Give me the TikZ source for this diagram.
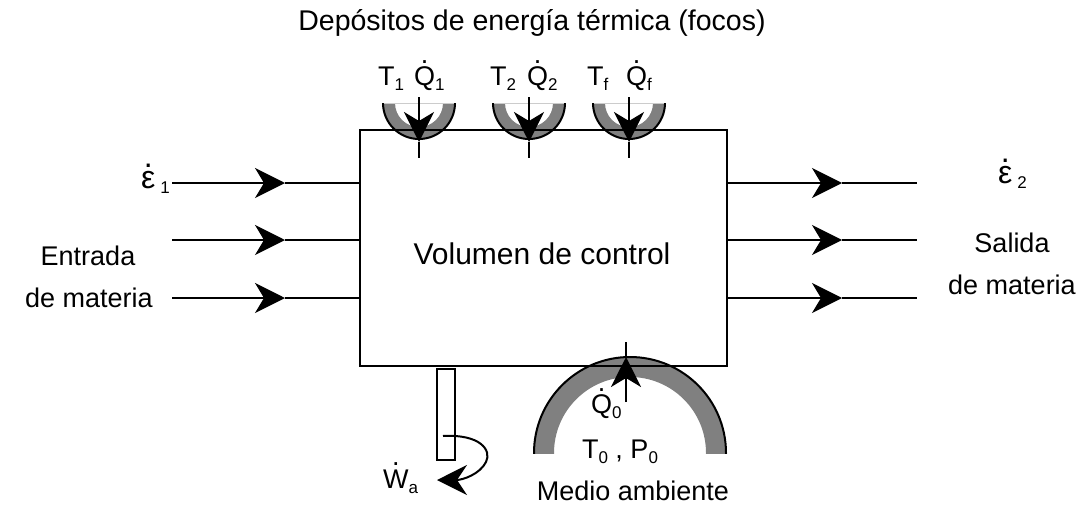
\documentclass[tikz,border=0pt]{standalone}
\usepackage{fontspec}
\setmainfont{Liberation Sans}
\usetikzlibrary{arrows.meta}
\newcommand{\lowidx}[1]{\raisebox{-5pt}{\fontsize{17}{17}\selectfont #1}}
\newcommand{\dotover}[2]{{\ooalign{#2\cr\hidewidth\raisebox{#1}{.}\hidewidth\cr}}}
\begin{document}
\begin{tikzpicture}[x=1pt,y=-1pt,
  ln/.style={line width=2pt},
  tipped/.style={line width=2pt,-{Stealth[length=30pt,width=30pt,inset=9pt]}},
  txt/.style={font=\fontsize{28.5}{33}\selectfont, inner sep=0pt, anchor=base},
  side/.style={font=\fontsize{27}{31}\selectfont, inner sep=0pt, anchor=base},
  lbl/.style={font=\fontsize{27}{31}\selectfont, inner sep=0pt, anchor=base west},
  band/.style={fill=black!50},
]
\useasboundingbox (0,0) rectangle (1078,506);

% thermal reservoirs (top)
\foreach \n/\cx in {1/419, 2/529, 3/629}{
  \coordinate (cup\n) at (\cx,103);
  \begin{scope}
    \clip (\cx-40,103) rectangle (\cx+40,145);
    \fill[band,even odd rule] (cup\n) circle[radius=36] (cup\n) circle[radius=24];
    \draw[ln] (cup\n) circle[radius=36];
  \end{scope}
  \draw[black!20, line width=0.8pt] (\cx-35,103) -- (\cx+35,103);
}

% environment reservoir (bottom)
\coordinate (env) at (630,453);
\begin{scope}
  \clip (520,350) rectangle (740,453);
  \fill[band,even odd rule] (env) circle[radius=96] (env) circle[radius=76];
  \draw[ln] (env) circle[radius=96];
\end{scope}

% control volume
\node[draw, line width=2pt, minimum width=367pt, minimum height=236pt,
      anchor=north west, inner sep=0pt, outer sep=0pt] (cv) at (360,130) {};
\node[txt, font=\fontsize{30}{34}\selectfont] (vct) at (542,264) {Volumen de control};

% matter inlets and outlets
\foreach \n/\y in {1/183, 2/240, 3/298}{
  \coordinate (ia\n) at (172,\y);
  \coordinate (it\n) at (285,\y);
  \draw[tipped] (ia\n) -- (it\n);
  \draw[ln] (it\n) -- (it\n -| cv.west);
  \coordinate (ot\n) at (842,\y);
  \coordinate (oe\n) at (917,\y);
  \draw[tipped] (ot\n -| cv.east) -- (ot\n);
  \draw[ln] (ot\n) -- (oe\n);
}

% heat arrows (top)
\foreach \n/\cx in {1/419, 2/529, 3/629}{
  \coordinate (qa\n) at (\cx,97);
  \coordinate (qt\n) at (\cx,142);
  \coordinate (qe\n) at (\cx,158);
  \draw[tipped] (qa\n) -- (qt\n);
  \draw[ln] (qt\n) -- (qe\n);
}

% heat arrow (bottom)
\coordinate (q0a) at (626,402);
\coordinate (q0t) at (626,357);
\coordinate (q0e) at (626,342);
\draw[tipped] (q0a) -- (q0t);
\draw[ln] (q0t) -- (q0e);

% shaft
\node[draw, line width=1.5pt, fill=white, minimum width=18pt, minimum height=91pt,
      anchor=north, inner sep=0pt, outer sep=0pt] (shaft) at (446,369) {};
\coordinate (rs) at (443,436);
\coordinate (rt) at (437,480);
\draw[line width=2pt,-{Stealth[length=30pt,width=30pt,inset=10pt]}]
  (rs) .. controls (480,434) and (492,450) .. (486,462)
       .. controls (480,474) and (463,480) .. (rt);

% texts
\node[txt] (title) at (532,30) {Depósitos de energía térmica (focos)};
\node[lbl] (t1) at (378,85) {T\lowidx{1}};
\node[lbl] (q1) at (414,85) {\dotover{22pt}{Q}\lowidx{1}};
\node[lbl] (t2) at (490,85) {T\lowidx{2}};
\node[lbl] (q2) at (527,85) {\dotover{22pt}{Q}\lowidx{2}};
\node[lbl] (tf) at (587,85) {T\lowidx{f}};
\node[lbl] (qf) at (626,85) {\dotover{22pt}{Q}\lowidx{f}};

\node[lbl, font=\fontsize{32}{36}\selectfont] (e1) at (141,188) {\dotover{21pt}{ε}\hspace{5pt}\lowidx{1}};
\node[lbl, font=\fontsize{32}{36}\selectfont] (e2) at (998,183) {\dotover{21pt}{ε}\hspace{5pt}\lowidx{2}};
\node[side] (entr) at (88,265) {Entrada};
\node[side] (dm1) at (89,307) {de materia};
\node[side] (sal) at (1012,252) {Salida};
\node[side] (dm2) at (1012,294) {de materia};

\node[lbl] (q0) at (591,413) {\dotover{22pt}{Q}\lowidx{0}};
\node[txt, font=\fontsize{27}{31}\selectfont] (tp) at (620,458) {T\lowidx{0} , P\lowidx{0}};
\node[txt, font=\fontsize{27}{31}\selectfont] (med) at (633,500) {Medio ambiente};
\node[lbl] (wa) at (383,488) {\dotover{23pt}{W}\lowidx{a}};
\end{tikzpicture}
\end{document}
